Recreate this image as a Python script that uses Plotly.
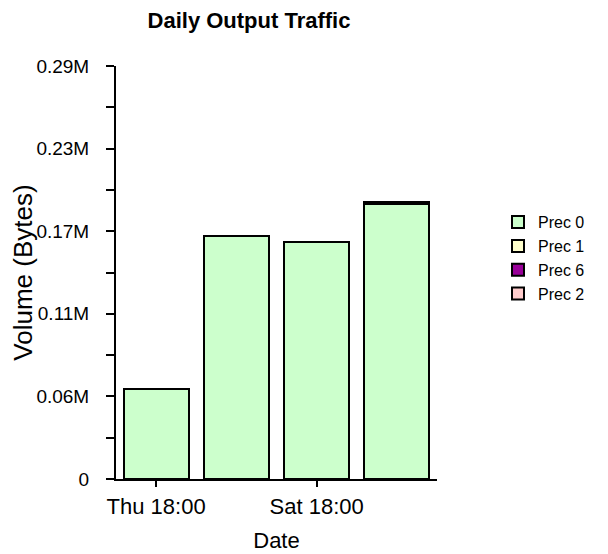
import plotly.graph_objects as go

categories = ["Thu 18:00", "Fri 18:00", "Sat 18:00", "Sun 18:00"]
series_names = ["Prec 0", "Prec 1", "Prec 6", "Prec 2"]
prec0 = [62900, 169000, 165000, 191600]
prec1 = [0, 0, 0, 0]
prec6 = [0, 0, 0, 1000]
prec2 = [0, 0, 0, 0]
series_values = [prec0, prec1, prec6, prec2]
colors = ["#CCFFCC", "#FFFFCC", "#990099", "#FFCCCC"]

y_max = 287500
y_tickvals = [0, 57500, 115000, 172500, 230000, 287500]
y_ticktext = ["0", "0.06M", "0.11M", "0.17M", "0.23M", "0.29M"]
y_minorvals = [28750, 86250, 143750, 201250, 258750]
x_tickvals = ["Thu 18:00", "Sat 18:00"]

FONT = "Liberation Sans, Arial, sans-serif"
W, H = 600, 546  # page body margin of 8px is added by the browser

fig = go.Figure()
for name, vals, col in zip(series_names, series_values, colors):
    fig.add_trace(go.Bar(
        x=categories, y=vals, name=name,
        marker=dict(color=col, line=dict(color="black", width=2)),
    ))

fig.update_layout(
    width=W, height=H,
    barmode="stack", bargap=0.19,
    plot_bgcolor="white", paper_bgcolor="white",
    margin=dict(l=108, r=171, t=58, b=75, autoexpand=False),
    font=dict(family=FONT, color="black"),
    title=dict(text="<b>Daily Output Traffic</b>", font=dict(size=22, family=FONT, color="black"),
               x=241/W, xanchor="center", xref="container",
               y=1-12/H, yanchor="middle", yref="container"),
    legend=dict(x=1.19, xanchor="left", y=0.663, yanchor="top", traceorder="normal",
                font=dict(size=16, family=FONT), tracegroupgap=0, itemclick=False),
    showlegend=True,
)
fig.update_xaxes(
    type="category", categoryorder="array", categoryarray=categories,
    range=[-0.5, 3.5],
    tickmode="array", tickvals=x_tickvals, ticktext=x_tickvals,
    ticks="outside", ticklen=6, tickwidth=2, tickcolor="black",
    ticklabelstandoff=1,
    showline=True, linecolor="black", linewidth=2, showgrid=False, zeroline=False,
    tickfont=dict(size=22, family=FONT),
    title=dict(text="Date", font=dict(size=22, family=FONT), standoff=14),
)
fig.update_yaxes(
    range=[0, y_max],
    tickmode="array", tickvals=y_tickvals, ticktext=y_ticktext,
    ticks="outside", ticklen=8, tickwidth=2, tickcolor="black",
    ticklabelstandoff=13,
    minor=dict(tickmode="array", tickvals=y_minorvals,
               ticks="outside", ticklen=8, tickwidth=2, tickcolor="black"),
    showline=True, linecolor="black", linewidth=2, showgrid=False, zeroline=False,
    tickfont=dict(size=19, family=FONT),
    title=dict(text="Volume (Bytes)", font=dict(size=26, family=FONT), standoff=0),
)
# inner halves of the crossing tick marks
fig.update_layout(
    yaxis2=dict(overlaying="y", anchor="x", side="left", range=[0, y_max],
                tickmode="array", tickvals=y_tickvals, ticktext=[""] * len(y_tickvals),
                ticks="inside", ticklen=4, tickwidth=2, tickcolor="black",
                minor=dict(tickmode="array", tickvals=y_minorvals, ticks="inside",
                           ticklen=4, tickwidth=2, tickcolor="black"),
                showline=False, showgrid=False, zeroline=False, fixedrange=True),
    xaxis2=dict(overlaying="x", anchor="y", side="bottom", range=[-0.5, 3.5],
                tickmode="array", tickvals=[0, 2], ticktext=["", ""],
                ticks="inside", ticklen=6, tickwidth=2, tickcolor="black",
                showline=False, showgrid=False, zeroline=False, fixedrange=True),
)
fig.write_html("out.html")
